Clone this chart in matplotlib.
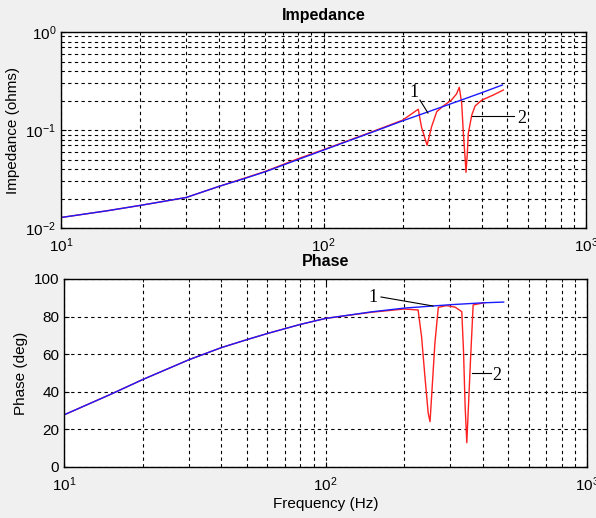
import numpy as np
import matplotlib
matplotlib.use("Agg")
import matplotlib.pyplot as plt

plt.rcParams['font.family'] = ['Liberation Sans', 'DejaVu Sans']
plt.rcParams['mathtext.fontset'] = 'custom'
plt.rcParams['mathtext.rm'] = 'Liberation Sans'

# curve 1 (blue): reference model
blue_f = [10, 15, 20, 30, 40, 50, 60, 80, 100, 150, 200, 300, 400, 480]
blue_z = [0.0128, 0.0150, 0.0170, 0.0205, 0.0266, 0.0320, 0.0375, 0.050,
          0.0624, 0.093, 0.124, 0.182, 0.240, 0.288]
blue_ph = [27.7, 38.5, 46.5, 57.0, 63.5, 67.7, 71.0, 75.8, 79.0, 82.5,
           84.5, 86.3, 87.3, 87.7]

# curve 2 (red): with resonances
red_zf = [10, 15, 20, 30, 40, 60, 80, 100, 150, 200, 229.6, 236, 248, 258,
          270, 286, 307, 321, 329, 336, 341, 346, 349, 353, 356, 367, 378,
          401, 444, 484]
red_z = [0.0128, 0.0150, 0.0170, 0.0205, 0.0266, 0.0378, 0.051, 0.063,
         0.094, 0.126, 0.163, 0.108, 0.070, 0.108, 0.154, 0.176, 0.202,
         0.233, 0.273, 0.187, 0.092, 0.053, 0.037, 0.058, 0.092, 0.142,
         0.176, 0.202, 0.228, 0.256]
red_pf = [10, 15, 20, 30, 40, 50, 60, 80, 100, 150, 200, 226, 233, 240,
          247, 251, 255, 262, 270, 290, 313, 332, 337, 342, 347, 352, 359,
          367, 407]
red_ph = [27.7, 38.5, 46.5, 57.0, 63.5, 67.7, 71.0, 75.8, 79.0, 82.3,
          84.0, 83.5, 69.3, 48.0, 28.6, 24.1, 39.3, 65.8, 84.9, 85.8, 85.0,
          82.6, 62.2, 32.0, 12.9, 32.0, 58.7, 86.2, 87.4]

# annotation labels: (text position, line start, line end)
imp_notes = [("1", (221, 0.244), (233, 0.202), (250, 0.149)),
             ("2", (570, 0.132), (532, 0.139), (368, 0.139))]
ph_notes = [("1", (152, 89.9), (163, 90.4), (258, 85.6)),
            ("2", (453, 48.9), (430, 50.0), (363, 50.0))]

fig = plt.figure(figsize=(5.96, 5.18), dpi=100, facecolor='#f0f0f0')
ax1 = fig.add_axes([0.1023, 0.5598, 0.881, 0.3784])
ax2 = fig.add_axes([0.1074, 0.0985, 0.8775, 0.363])

grid_kw = dict(color='black', linestyle=(0, (3, 3)), linewidth=0.8)

ax1.loglog(red_zf, red_z, color='#ff2020', linewidth=1.0)
ax1.loglog(blue_f, blue_z, color='#1a1aff', linewidth=1.0)
ax1.set_xlim(10, 1000)
ax1.set_ylim(0.01, 1)
ax1.set_title('Impedance', fontsize=11.5, fontweight='bold', pad=9)
ax1.set_ylabel('Impedance (ohms)', fontsize=11)
ax1.grid(True, which='both', **grid_kw)

ax2.semilogx(red_pf, red_ph, color='#ff2020', linewidth=1.0)
ax2.semilogx(blue_f, blue_ph, color='#1a1aff', linewidth=1.0)
ax2.set_xlim(10, 1000)
ax2.set_ylim(0, 100)
ax2.set_yticks([0, 20, 40, 60, 80, 100])
ax2.set_title('Phase', fontsize=11.5, fontweight='bold', pad=9)
ax2.set_ylabel('Phase (deg)', fontsize=11)
ax2.set_xlabel('Frequency (Hz)', fontsize=11, labelpad=2)
ax2.grid(True, which='major', axis='y', **grid_kw)
ax2.grid(True, which='both', axis='x', **grid_kw)

for ax in (ax1, ax2):
    ax.set_facecolor('white')
    ax.tick_params(which='both', direction='in', labelsize=11, top=True, right=True)
    ax.tick_params(axis='x', pad=6)
    for s in ax.spines.values():
        s.set_linewidth(1.0)

for ax, notes in ((ax1, imp_notes), (ax2, ph_notes)):
    for label, txt, p0, p1 in notes:
        ax.plot([p0[0], p1[0]], [p0[1], p1[1]], color='black', linewidth=0.8)
        ax.text(txt[0], txt[1], label, ha='center', va='center', fontsize=13,
                family='Liberation Serif')

fig.savefig('out.png', dpi=100, facecolor=fig.get_facecolor())
